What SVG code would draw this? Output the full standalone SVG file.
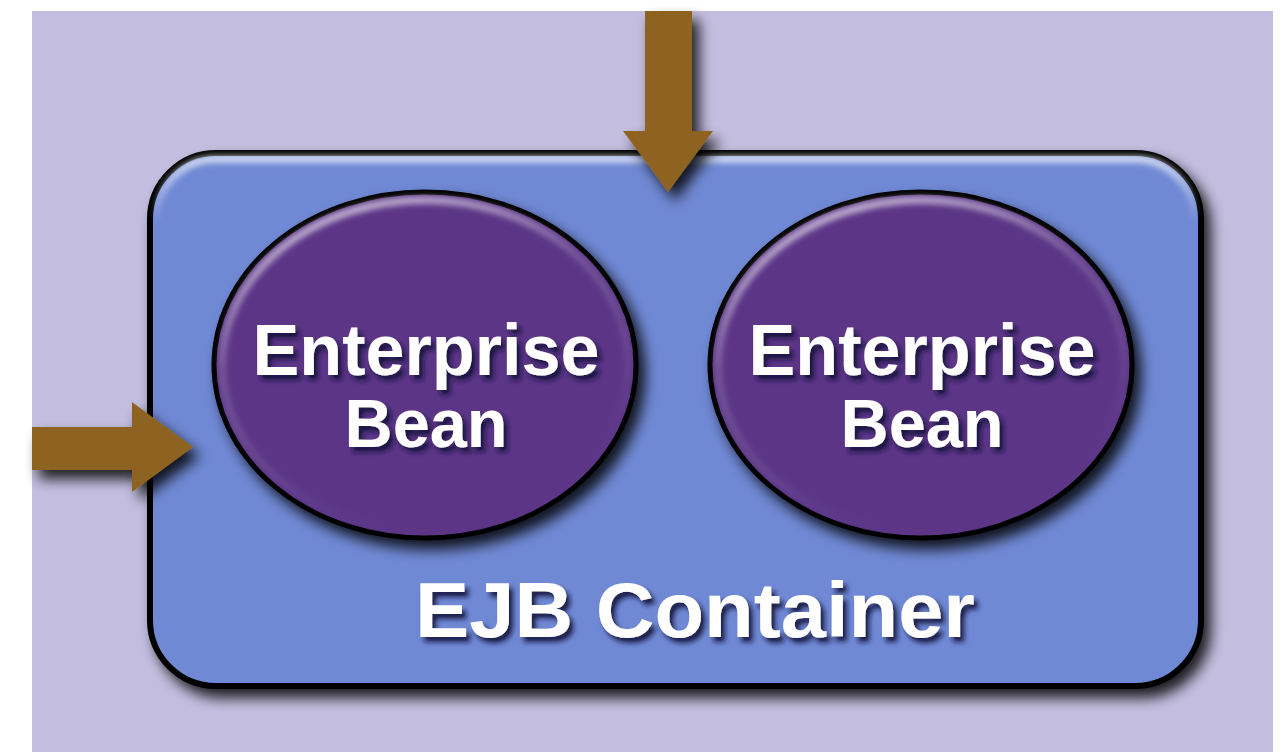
<svg xmlns="http://www.w3.org/2000/svg" width="1280" height="752" viewBox="0 0 1280 752">
  <defs>
    <filter id="shadow" x="-20%" y="-20%" width="150%" height="150%">
      <feGaussianBlur in="SourceAlpha" stdDeviation="7"/>
      <feOffset dx="7" dy="9" result="b"/>
      <feComponentTransfer><feFuncA type="linear" slope="0.85"/></feComponentTransfer>
      <feMerge><feMergeNode/><feMergeNode in="SourceGraphic"/></feMerge>
    </filter>
    <filter id="textShadow" x="-10%" y="-30%" width="130%" height="170%">
      <feGaussianBlur in="SourceAlpha" stdDeviation="2.5"/>
      <feOffset dx="4" dy="5" result="b"/>
      <feFlood flood-color="#14143a" flood-opacity="0.9"/>
      <feComposite in2="b" operator="in"/>
      <feMerge><feMergeNode/><feMergeNode in="SourceGraphic"/></feMerge>
    </filter>
    <filter id="soft" x="-10%" y="-10%" width="120%" height="120%">
      <feGaussianBlur stdDeviation="3"/>
    </filter>
    <linearGradient id="rimLight" x1="0" y1="0" x2="0.4" y2="1">
      <stop offset="0" stop-color="#ffffff" stop-opacity="1"/>
      <stop offset="0.45" stop-color="#ffffff" stop-opacity="0.2"/>
      <stop offset="1" stop-color="#ffffff" stop-opacity="0"/>
    </linearGradient>
    <linearGradient id="boxRim" x1="0" y1="0" x2="0" y2="1">
      <stop offset="0" stop-color="#ffffff" stop-opacity="0.85"/>
      <stop offset="0.12" stop-color="#ffffff" stop-opacity="0"/>
    </linearGradient>
    <style>
      .bean { fill: #5b3587; stroke: #000; stroke-width: 5; }
      .label { font-family: "Liberation Sans", Arial, Helvetica, sans-serif; font-weight: bold; fill: #ffffff; text-anchor: middle; }
      .arrow { fill: #8e6420; }
    </style>
  </defs>

  <!-- page background -->
  <rect x="0" y="0" width="1280" height="752" fill="#ffffff"/>
  <rect x="32" y="11" width="1241" height="741" fill="#c3bedf"/>

  <!-- container -->
  <g id="ejb-container">
    <rect x="150" y="153" width="1051" height="533" rx="66" ry="66" fill="#6f89d5" stroke="#000" stroke-width="6" filter="url(#shadow)"/>
    <rect x="156" y="159" width="1039" height="521" rx="60" ry="60" fill="none" stroke="url(#boxRim)" stroke-width="6" filter="url(#soft)"/>
    <text class="label" x="695" y="637" font-size="78" textLength="560" lengthAdjust="spacingAndGlyphs" filter="url(#textShadow)">EJB Container</text>
  </g>

  <!-- left bean -->
  <g id="bean-1">
    <ellipse class="bean" cx="425" cy="365" rx="211" ry="173" filter="url(#shadow)"/>
    <ellipse cx="425" cy="365" rx="203" ry="165" fill="none" stroke="url(#rimLight)" stroke-width="6" filter="url(#soft)"/>
    <g class="label" filter="url(#textShadow)">
      <text x="426" y="375" font-size="72" textLength="347" lengthAdjust="spacingAndGlyphs">Enterprise</text>
      <text x="426" y="447" font-size="69" textLength="163" lengthAdjust="spacingAndGlyphs">Bean</text>
    </g>
  </g>

  <!-- right bean -->
  <g id="bean-2">
    <ellipse class="bean" cx="921" cy="365" rx="211" ry="173" filter="url(#shadow)"/>
    <ellipse cx="921" cy="365" rx="203" ry="165" fill="none" stroke="url(#rimLight)" stroke-width="6" filter="url(#soft)"/>
    <g class="label" filter="url(#textShadow)">
      <text x="922" y="375" font-size="72" textLength="347" lengthAdjust="spacingAndGlyphs">Enterprise</text>
      <text x="922" y="447" font-size="69" textLength="163" lengthAdjust="spacingAndGlyphs">Bean</text>
    </g>
  </g>

  <!-- connectors -->
  <g id="connectors" filter="url(#shadow)">
    <path class="arrow" d="M645 11 H692 V131 H713 L668 192 L623 131 H645 Z"/>
    <path class="arrow" d="M32 427 H132 V402 L193 447 L132 492 V470 H32 Z"/>
  </g>
</svg>
